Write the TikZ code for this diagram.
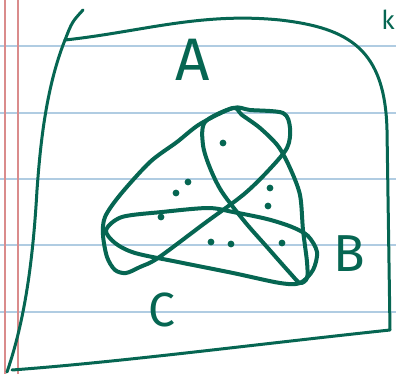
\documentclass[tikz,border=0pt]{standalone}
\usepackage{fontspec}
\newfontfamily\handfont{Fira Sans}
\definecolor{inkgreen}{RGB}{6,102,82}
\definecolor{ruleblue}{RGB}{176,204,226}
\definecolor{marginred}{RGB}{218,140,140}

\begin{document}
\begin{tikzpicture}[x=1pt,y=-1pt,
  ink/.style={inkgreen,line width=4pt,line cap=round,line join=round},
  frameline/.style={inkgreen,line width=3pt,line cap=round,line join=round},
  paperline/.style={ruleblue,line width=1.6pt},
  marginline/.style={marginred,line width=1.3pt},
  letter/.style={inkgreen,font=\handfont}]
\useasboundingbox (0,0) rectangle (396,374);
\fill[white] (0,0) rectangle (396,374);
% ruled paper
\foreach \yy in {46,113,179,245,312}
  \draw[paperline] (0,\yy) -- (396,\yy);
\draw[marginline] (5,0) -- (5,374);
\draw[marginline] (18,0) -- (18,374);
% the big box
\draw[frameline] (83,10) .. controls (72,22) .. (65,40);
\draw[frameline] (65,40) .. controls (140,32) and (200,12) .. (280,20)
  .. controls (350,28) and (385,50) .. (387,130)
  -- (390,330)
  .. controls (250,345) and (120,362) .. (12,370);
\draw[frameline] (65,40) .. controls (45,90) and (40,150) .. (37,190)
  .. controls (33,260) and (25,320) .. (7,372);
% the three sets
\draw[ink] plot[smooth cycle] coordinates {(233,108) (200,124) (177,142) (150,162)
  (120,195) (105,217) (103,235) (107,257) (115,270) (126,273) (140,267) (158,258)
  (205,223) (243,195) (267,172) (287,148) (290,128) (283,113) (250,110)};
\draw[ink] plot[smooth cycle] coordinates {(233,108) (205,122) (203,145) (210,168)
  (222,192) (245,222) (267,247) (290,273) (300,283) (307,278) (307,262)
  (303,230) (300,195) (290,168) (278,146) (260,128) (242,115)};
\draw[ink] plot[smooth cycle] coordinates {(106,230) (122,217) (162,212) (208,208)
  (233,212) (267,219) (292,227) (308,236) (317,252) (313,270) (300,283)
  (280,283) (233,273) (178,262) (135,253) (115,243)};
% points
\foreach \px/\py in {223/143,188/182,176/193,270/188,268/206,161/217,211/242,231/244,282/243}
  \fill[inkgreen] (\px,\py) circle (3.4);
% labels
\node[letter,font=\handfont\fontsize{60}{60}\selectfont] (a) at (193,60) {A};
\node[letter,font=\handfont\fontsize{52}{52}\selectfont] (b) at (349,254) {B};
\node[letter,font=\handfont\fontsize{48}{48}\selectfont] (c) at (162,310) {C};
\node[letter,font=\handfont\fontsize{26}{26}\selectfont,anchor=east,inner sep=1pt] (k) at (396,20) {k};
\end{tikzpicture}
\end{document}
